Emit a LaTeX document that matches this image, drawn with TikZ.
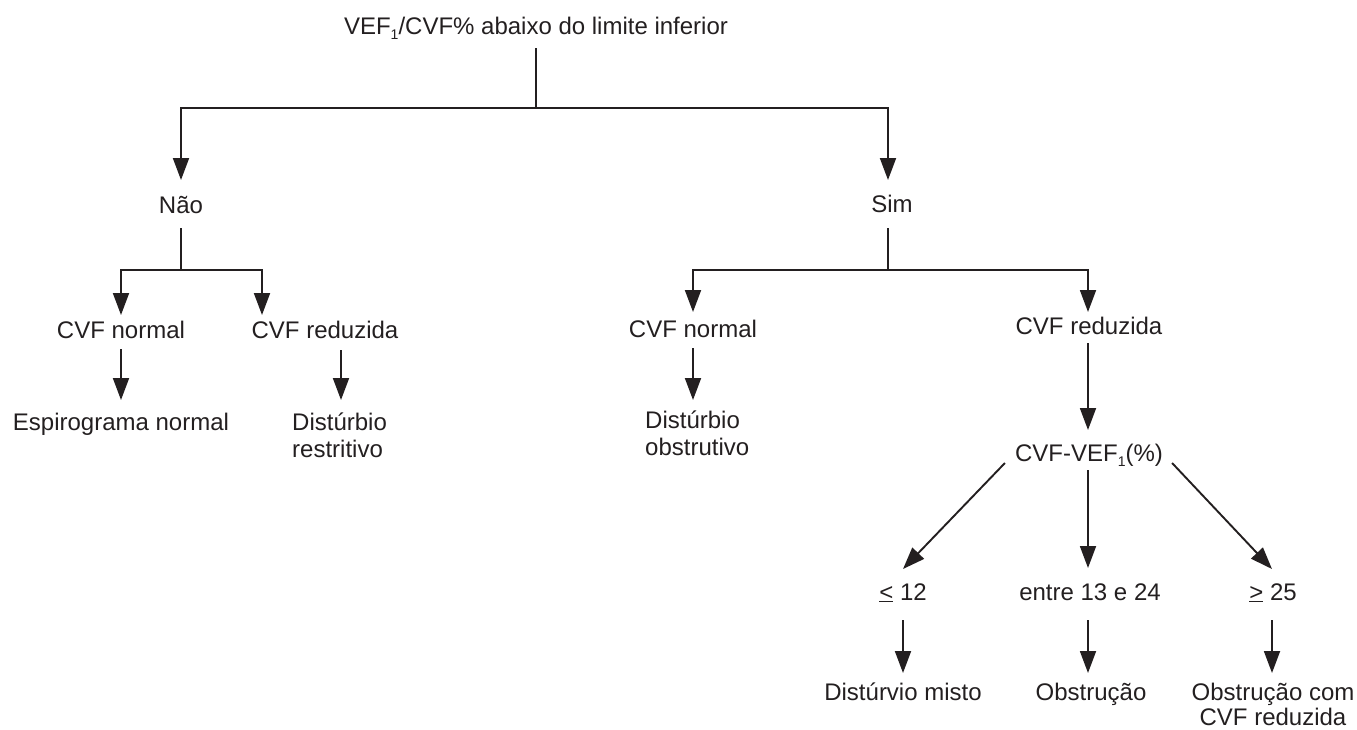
\documentclass[tikz,border=0pt]{standalone}
\usepackage{fontspec}
\setmainfont{Liberation Sans}
\usetikzlibrary{arrows.meta,calc}
\definecolor{ink}{HTML}{231F20}
\newcommand\fsz{\fontsize{24}{27}\selectfont}
\newcommand\fszb{\fontsize{24}{25}\selectfont}
\newcommand\sbx[1]{\raisebox{-5pt}{\fontsize{14}{14}\selectfont #1}}
\tikzset{
  lbl/.style={inner sep=0pt, font=\fsz, text=ink, text height=17pt, text depth=5pt},
  mlbl/.style={inner sep=0pt, font=\fsz, text=ink},
  conn/.style={line width=1.9pt, draw=ink},
  arr/.style={conn, -{Triangle[length=22pt,width=16pt]}},
}
\begin{document}
\begin{tikzpicture}[x=1pt,y=-1pt]
\useasboundingbox (0,0) rectangle (1357,729);
% nodes
\node[lbl,anchor=base] (title) at (536,34) {VEF\sbx{1}/CVF\% abaixo do limite inferior};
\node[lbl,anchor=base] (nao) at (181,213) {Não};
\node[lbl,anchor=base] (sim) at (892,212) {Sim};
\node[lbl,anchor=base] (cnL) at (121,338) {CVF normal};
\node[lbl,anchor=base] (crL) at (325,338) {CVF reduzida};
\node[lbl,anchor=base] (espL) at (121,430) {Espirograma normal};
\node[mlbl,anchor=base west] (drL) at (292,430) {\begin{tabular}[t]{@{}l@{}}Distúrbio\\restritivo\end{tabular}};
\node[lbl,anchor=base] (cnR) at (693,337) {CVF normal};
\node[lbl,anchor=base] (crR) at (1089,334) {CVF reduzida};
\node[mlbl,anchor=base west] (doR) at (645,428) {\begin{tabular}[t]{@{}l@{}}Distúrbio\\obstrutivo\end{tabular}};
\node[lbl,anchor=base] (cv) at (1089,461) {CVF-VEF\sbx{1}(\%)};
\node[lbl,anchor=base] (le) at (903,600) {\underline{<} 12};
\node[lbl,anchor=base] (mid) at (1090,600) {entre 13 e 24};
\node[lbl,anchor=base] (ge) at (1273,600) {\underline{>} 25};
\node[lbl,anchor=base] (dm) at (903,700) {Distúrvio misto};
\node[lbl,anchor=base] (ob) at (1091,700) {Obstrução};
\node[mlbl,font=\fszb,anchor=base] (oc) at (1273,700) {\begin{tabular}[t]{@{}c@{}}Obstrução com\\CVF reduzida\end{tabular}};
% connectors
\draw[conn] ([yshift=-14pt]title.base) -- ++(0,60) coordinate (j0);
\draw[arr] (j0) -| ([yshift=33pt]nao.base);
\draw[arr] (j0) -| ([xshift=-4pt,yshift=32pt]sim.base);
\draw[conn] ([yshift=-15pt]nao.base) -- ++(0,42) coordinate (jn);
\draw[arr] (jn) -| ([yshift=23pt]cnL.base);
\draw[arr] (jn) -| ([xshift=-63pt,yshift=23pt]crL.base);
\draw[arr] ([yshift=-11pt]cnL.base) -- ([yshift=30pt]espL.base);
\draw[arr] ([xshift=16pt,yshift=-12pt]crL.base) -- ([xshift=49pt,yshift=30pt]drL.base west);
\draw[conn] ([xshift=-4pt,yshift=-16pt]sim.base) -- ++(0,42) coordinate (js);
\draw[arr] (js) -| ([yshift=25pt]cnR.base);
\draw[arr] (js) -| ([xshift=-1pt,yshift=22pt]crR.base);
\draw[arr] ([yshift=-11pt]cnR.base) -- ([xshift=48pt,yshift=28pt]doR.base west);
\draw[arr] ([xshift=-1pt,yshift=-9pt]crR.base) -- ([xshift=-1pt,yshift=31pt]cv.base);
\draw[arr] ([xshift=-10pt,yshift=-2pt]cv.base west) -- ([yshift=31pt]le.base);
\draw[arr] ([xshift=-1pt,yshift=-9pt]cv.base) -- ([xshift=-2pt,yshift=32pt]mid.base);
\draw[arr] ([xshift=9pt,yshift=-2pt]cv.base east) -- ([xshift=-1pt,yshift=31pt]ge.base);
\draw[arr] ([yshift=-20pt]le.base) -- ([yshift=27pt]dm.base);
\draw[arr] ([xshift=-2pt,yshift=-20pt]mid.base) -- ([xshift=-3pt,yshift=27pt]ob.base);
\draw[arr] ([xshift=-1pt,yshift=-20pt]ge.base) -- ([xshift=-1pt,yshift=27pt]oc.base);
\end{tikzpicture}
\end{document}
